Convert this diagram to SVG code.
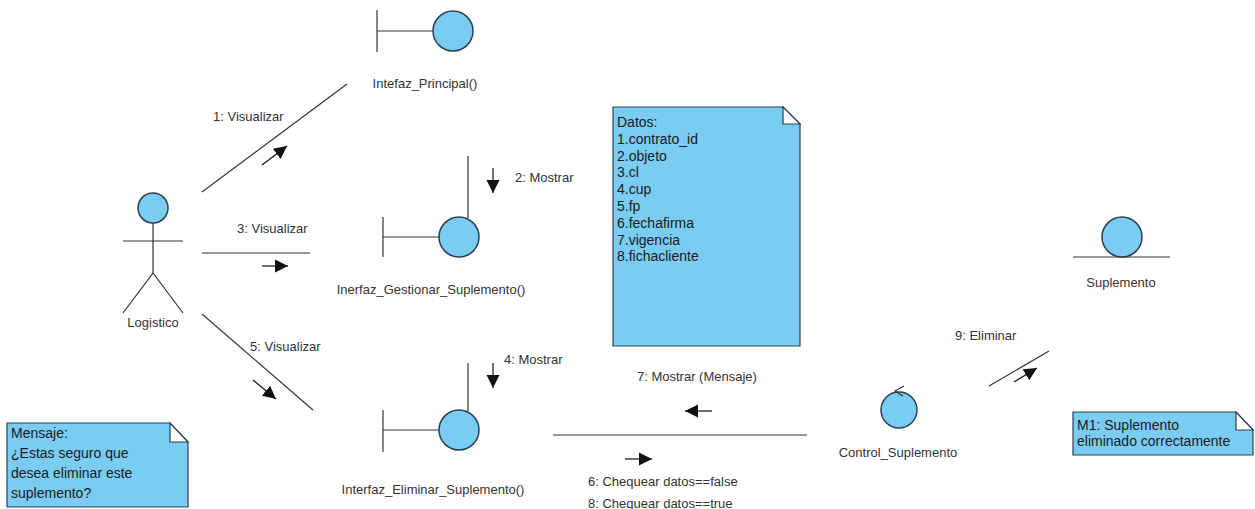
<svg xmlns="http://www.w3.org/2000/svg" width="1255" height="509" viewBox="0 0 1255 509">
  <style>
    .lbl{font-family:"Liberation Sans",Arial,sans-serif;font-size:13px;fill:#333}
    .nt{font-family:"Liberation Sans",Arial,sans-serif;font-size:14px;fill:#1a1a1a}
    .ln{stroke:#333;stroke-width:1.2;fill:none}
    .sym{fill:#7BCCF2;stroke:#2a3f50;stroke-width:1.5}
    .note{fill:#7BCCF2;stroke:#2a3f50;stroke-width:1.2}
    .fold{fill:#fff;stroke:#2a3f50;stroke-width:1.2}
    .msg{stroke:#111;stroke-width:1.2;fill:none;marker-end:url(#head)}
  </style>
  <defs>
    <marker id="head" markerUnits="userSpaceOnUse" markerWidth="14" markerHeight="14" refX="13" refY="7" orient="auto">
      <path d="M0,0.5 L13,7 L0,13.5 z" fill="#111"/>
    </marker>
  </defs>

  <!-- actor -->
  <g id="logistico">
    <circle class="sym" cx="153" cy="208" r="15"/>
    <path class="ln" d="M123,241 H183 M153,223 V273 L123,313 M153,273 L183,313"/>
    <text class="lbl" x="153" y="327" text-anchor="middle">Logistico</text>
  </g>

  <!-- boundary objects -->
  <g id="interfaz-principal">
    <path class="ln" d="M377,10 V52 M377,31 H433"/>
    <circle class="sym" cx="453" cy="31" r="20"/>
    <text class="lbl" x="425" y="88" text-anchor="middle">Intefaz_Principal()</text>
  </g>

  <g id="interfaz-gestionar">
    <path class="ln" d="M383,217 V257 M383,237 H439"/>
    <circle class="sym" cx="459" cy="237" r="20"/>
    <text class="lbl" x="431" y="294" text-anchor="middle">Inerfaz_Gestionar_Suplemento()</text>
  </g>

  <g id="interfaz-eliminar">
    <path class="ln" d="M383,410 V452 M383,430 H439"/>
    <circle class="sym" cx="459" cy="430" r="20"/>
    <text class="lbl" x="433" y="494" text-anchor="middle">Interfaz_Eliminar_Suplemento()</text>
  </g>

  <!-- control object -->
  <g id="control-suplemento">
    <circle class="sym" cx="899" cy="410" r="18"/>
    <path class="ln" d="M904,386 L895,391 L903,396" stroke="#2a3f50" stroke-width="1.5"/>
    <text class="lbl" x="898" y="457" text-anchor="middle">Control_Suplemento</text>
  </g>

  <!-- entity object -->
  <g id="suplemento">
    <circle class="sym" cx="1122" cy="237" r="20"/>
    <path class="ln" d="M1073,257 H1170"/>
    <text class="lbl" x="1121" y="287" text-anchor="middle">Suplemento</text>
  </g>

  <!-- notes -->
  <g id="nota-mensaje">
    <path class="note" d="M7,423 H170 L188,442 V507 H7 z"/>
    <path class="fold" d="M170,423 V442 H188 z"/>
    <text class="nt" x="11" y="438">Mensaje:</text>
    <text class="nt" x="11" y="458">¿Estas seguro que</text>
    <text class="nt" x="11" y="478">desea eliminar este</text>
    <text class="nt" x="11" y="498">suplemento?</text>
  </g>

  <g id="nota-datos">
    <path class="note" d="M613,107 H783 L800,124 V346 H613 z"/>
    <path class="fold" d="M783,107 V124 H800 z"/>
    <text class="nt" x="617" y="127">Datos:</text>
    <text class="nt" x="617" y="143.8">1.contrato_id</text>
    <text class="nt" x="617" y="160.6">2.objeto</text>
    <text class="nt" x="617" y="177.4">3.cl</text>
    <text class="nt" x="617" y="194.2">4.cup</text>
    <text class="nt" x="617" y="211">5.fp</text>
    <text class="nt" x="617" y="227.8">6.fechafirma</text>
    <text class="nt" x="617" y="244.6">7.vigencia</text>
    <text class="nt" x="617" y="261.4">8.fichacliente</text>
  </g>

  <g id="nota-m1">
    <path class="note" d="M1073,412 H1236 L1253,430 V455 H1073 z"/>
    <path class="fold" d="M1236,412 V430 H1253 z"/>
    <text class="nt" x="1077" y="430">M1: Suplemento</text>
    <text class="nt" x="1077" y="446">eliminado correctamente</text>
  </g>

  <!-- links and messages -->
  <g id="connectors">
    <line class="ln" x1="202" y1="192" x2="347" y2="84"/>
    <line class="msg" x1="262" y1="165" x2="287" y2="146"/>
    <text class="lbl" x="213" y="121">1: Visualizar</text>

    <line class="ln" x1="468" y1="156" x2="468" y2="218"/>
    <line class="msg" x1="493" y1="168" x2="493" y2="193"/>
    <text class="lbl" x="515" y="182">2: Mostrar</text>

    <line class="ln" x1="202" y1="253" x2="310" y2="253"/>
    <line class="msg" x1="262" y1="266" x2="288" y2="266"/>
    <text class="lbl" x="237" y="233">3: Visualizar</text>

    <line class="ln" x1="468" y1="363" x2="468" y2="411"/>
    <line class="msg" x1="493" y1="363" x2="493" y2="388"/>
    <text class="lbl" x="504" y="364">4: Mostrar</text>

    <line class="ln" x1="202" y1="314" x2="313" y2="410"/>
    <line class="msg" x1="253" y1="380" x2="276" y2="399"/>
    <text class="lbl" x="250" y="351">5: Visualizar</text>

    <line class="ln" x1="553" y1="435" x2="807" y2="435"/>
    <line class="msg" x1="712" y1="411" x2="685" y2="411"/>
    <text class="lbl" x="637" y="381">7: Mostrar (Mensaje)</text>
    <line class="msg" x1="625" y1="459" x2="652" y2="459"/>
    <text class="lbl" x="588" y="486">6: Chequear datos==false</text>
    <text class="lbl" x="588" y="508">8: Chequear datos==true</text>

    <line class="ln" x1="989" y1="386" x2="1049" y2="351"/>
    <line class="msg" x1="1014" y1="382" x2="1037" y2="368"/>
    <text class="lbl" x="955" y="340">9: Eliminar</text>
  </g>
</svg>
